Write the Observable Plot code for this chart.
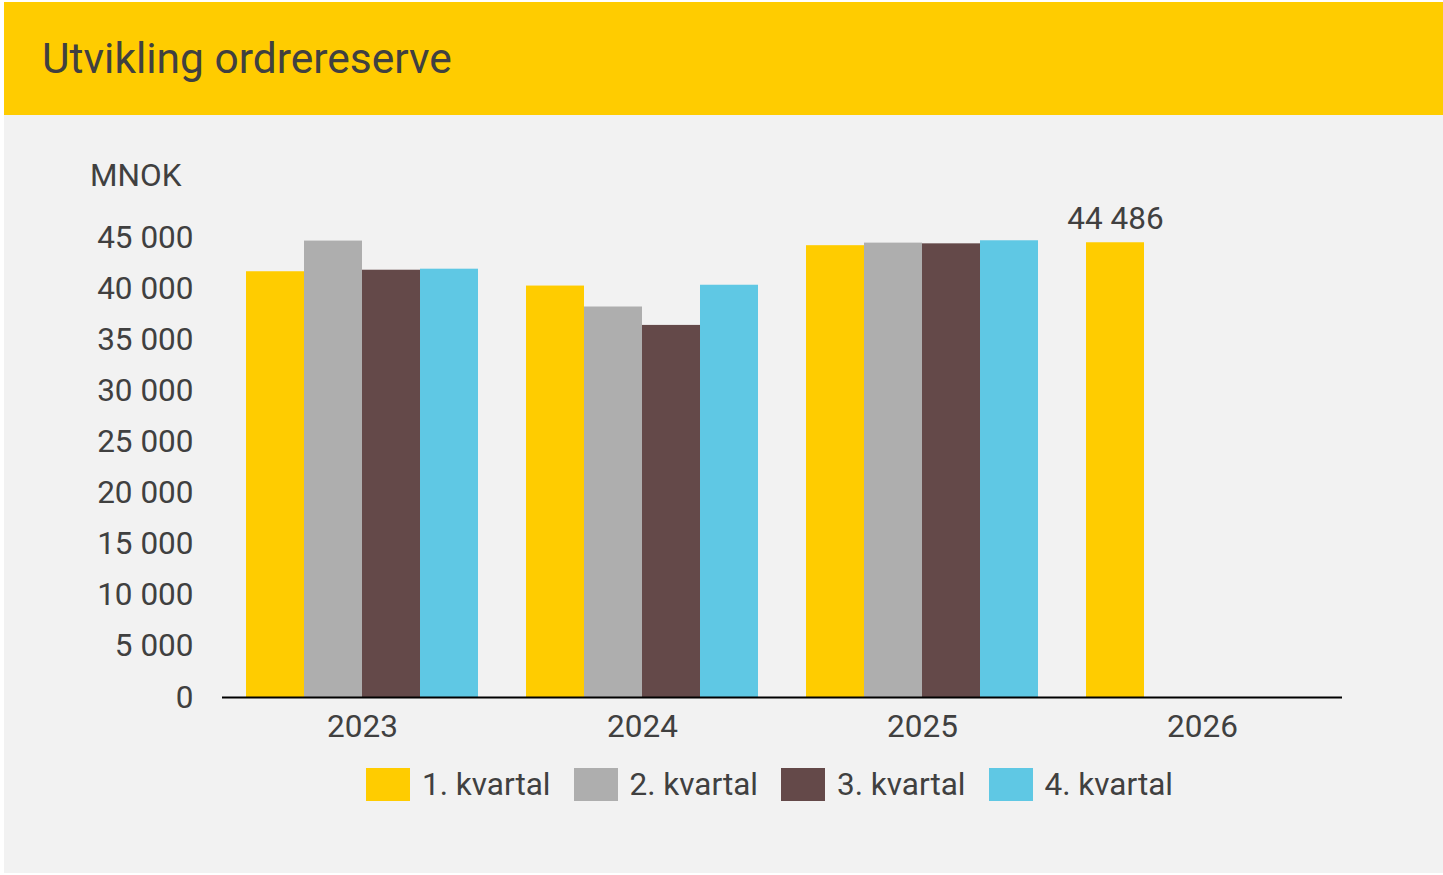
<!DOCTYPE html>
<html>
<head>
<meta charset="utf-8">
<script src="https://cdn.jsdelivr.net/npm/d3@7"></script>
<script src="https://cdn.jsdelivr.net/npm/@observablehq/plot@0.6"></script>
<style>
  html, body { margin: 0; padding: 0; background: #ffffff; }
  body { width: 1443px; height: 875px; position: relative; overflow: hidden; font-family: Roboto, "Noto Sans", sans-serif; color: #404040; }
  #header { position: absolute; left: 4px; top: 2px; width: 1439px; height: 113px; background: #FFCC00; }
  #title { position: absolute; left: 38px; top: 36px; font-size: 42.5px; line-height: 1; color: #404040; white-space: nowrap; }
  #panel { position: absolute; left: 4px; top: 115px; width: 1439px; height: 758px; background: #F2F2F2; }
  #chart { position: absolute; left: 0; top: 0; }
  #unit { position: absolute; left: 86px; top: 45px; font-size: 31.5px; line-height: 1; }
  #legend { position: absolute; left: 362px; top: 653px; display: flex; align-items: center; font-size: 31.5px; line-height: 1; white-space: nowrap; }
  #legend .item { display: flex; align-items: center; margin-right: 23px; }
  #legend .sw { width: 44px; height: 33px; margin-right: 12px; }
</style>
</head>
<body>
<div id="header"><div id="title">Utvikling ordrereserve</div></div>
<div id="panel">
  <div id="chart"></div>
  <div id="unit">MNOK</div>
  <div id="legend"></div>
</div>
<script>
const years = ["2023", "2024", "2025", "2026"];
const quarters = ["1. kvartal", "2. kvartal", "3. kvartal", "4. kvartal"];
const colors = ["#FFCC00", "#AEAEAE", "#644949", "#5FC8E4"];
const q1 = [41650, 40250, 44200, 44486];
const q2 = [44650, 38200, 44450, null];
const q3 = [41800, 36400, 44380, null];
const q4 = [41900, 40330, 44680, null];
const yTicks = [0, 5000, 10000, 15000, 20000, 25000, 30000, 35000, 40000, 45000];
const labelYears = ["2026"];

const series = [q1, q2, q3, q4];
const data = [];
years.forEach((yr, i) => {
  quarters.forEach((q, j) => {
    const v = series[j][i];
    if (v != null) data.push({year: yr, quarter: q, value: v});
  });
});
const fmt = d => d3.format(",")(d).replace(/,/g, " ");
const labelData = data.filter(d => labelYears.includes(d.year) && d.quarter === quarters[0]);

const plot = Plot.plot({
  width: 1439,
  height: 645,
  marginLeft: 216,
  marginRight: 100,
  marginTop: 122,
  marginBottom: 63,
  style: {fontFamily: "Roboto, 'Noto Sans', sans-serif", fontSize: "31.5px", color: "#404040", background: "transparent", overflow: "visible"},
  fx: {domain: years, padding: 0, label: null, axis: "bottom", tickSize: 0, tickPadding: 17},
  x: {domain: quarters, paddingInner: 0, paddingOuter: 0.4, axis: null},
  y: {domain: [0, 45000], axis: null},
  color: {domain: quarters, range: colors},
  marks: [
    Plot.barY(data, {fx: "year", x: "quarter", y: "value", fill: "quarter"}),
    Plot.ruleY([0], {stroke: "#000000", strokeWidth: 2}),
    Plot.axisY({ticks: yTicks, tickSize: 0, tickPadding: 29, tickFormat: fmt, label: null, fontSize: 31.5}),
    Plot.text(labelData, {fx: "year", x: "quarter", y: "value", text: d => fmt(d.value), dy: -24, fill: "#404040", fontSize: 31.5})
  ]
});
document.getElementById("chart").appendChild(plot);

const color = plot.scale("color");
const legend = document.getElementById("legend");
color.domain.forEach((q, i) => {
  const item = document.createElement("div");
  item.className = "item";
  const sw = document.createElement("div");
  sw.className = "sw";
  sw.style.background = color.range[i];
  const lab = document.createElement("span");
  lab.textContent = q;
  item.appendChild(sw);
  item.appendChild(lab);
  legend.appendChild(item);
});
</script>
</body>
</html>
